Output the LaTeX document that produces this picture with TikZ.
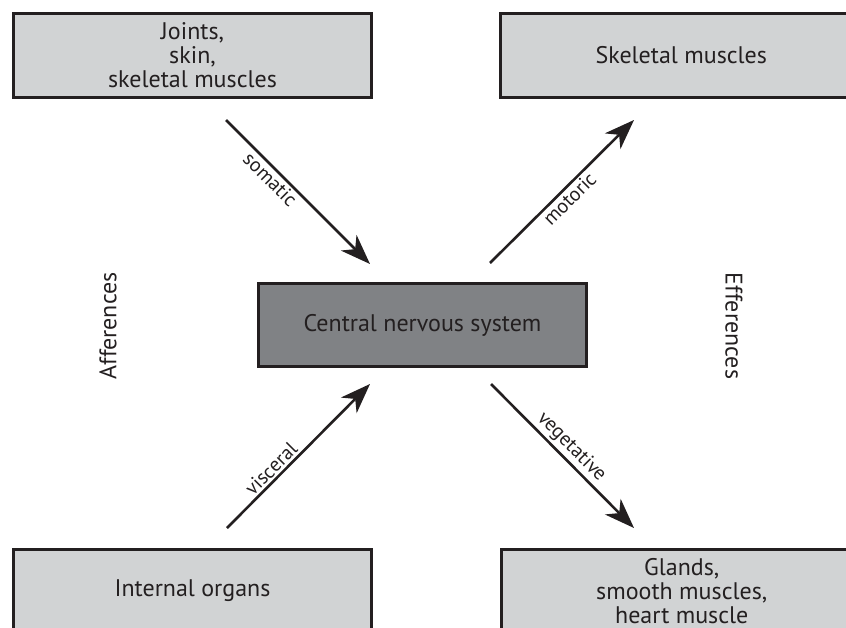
\documentclass[tikz,border=0pt]{standalone}
\usepackage{fontspec}
\setmainfont{PT Sans}
\usetikzlibrary{arrows.meta}
\definecolor{edgecol}{HTML}{231F20}
\definecolor{lightfill}{HTML}{D1D3D4}
\definecolor{darkfill}{HTML}{808285}
\tikzset{
  boxbase/.style={rectangle, draw=edgecol, line width=3pt, inner sep=0pt, align=center,
    text=edgecol, font={\fontsize{24}{24}\selectfont}},
  lightbox/.style={boxbase, fill=lightfill},
  darkbox/.style={boxbase, fill=darkfill},
  sidelabel/.style={text=edgecol, font={\fontsize{24}{24}\selectfont}},
  flow/.style={draw=edgecol, line width=2.6pt, -{Stealth[length=30pt,width=22pt,inset=9pt]}},
  flowlabel/.style={sloped, text=edgecol, inner sep=2pt, font={\fontsize{20}{20}\selectfont}}
}
\begin{document}
\begin{tikzpicture}[x=1pt,y=-1pt]
\useasboundingbox (0,0) rectangle (846,627);
\clip (0,0) rectangle (846,627);
\node[lightbox, minimum width=358pt, minimum height=84pt] (tl) at (192.5,55.5) {Joints,\\skin,\\skeletal muscles};
\node[lightbox, minimum width=361.5pt, minimum height=84pt] (tr) at (681.25,55.5) {Skeletal muscles};
\node[lightbox, minimum width=358pt, minimum height=83pt] (bl) at (192.5,591) {Internal organs};
\node[lightbox, minimum width=360.5pt, minimum height=83pt] (br) at (681.75,591) {Glands,\\smooth muscles,\\heart muscle};
\node[darkbox, minimum width=328pt, minimum height=83pt] (cns) at (422.5,325) {Central nervous system};
\node[sidelabel, rotate=90] (aff) at (108,326) {Afferences};
\node[sidelabel, rotate=-90] (eff) at (734,326) {Efferences};
\coordinate (s1) at (226,120);
\coordinate (s2) at (370,264);
\coordinate (v1) at (227,528);
\coordinate (v2) at (370,384);
\coordinate (m1) at (490,263);
\coordinate (m2) at (634,120);
\coordinate (g1) at (491,384);
\coordinate (g2) at (634,528);
\draw[flow] (s1) -- node[flowlabel, pos=0.36, below] (lsom) {somatic} (s2);
\draw[flow] (v1) -- node[flowlabel, pos=0.36, above] (lvis) {visceral} (v2);
\draw[flow] (m1) -- node[flowlabel, pos=0.5, below] (lmot) {motoric} (m2);
\draw[flow] (g1) -- node[flowlabel, pos=0.5, above] (lveg) {vegetative} (g2);
\end{tikzpicture}
\end{document}
